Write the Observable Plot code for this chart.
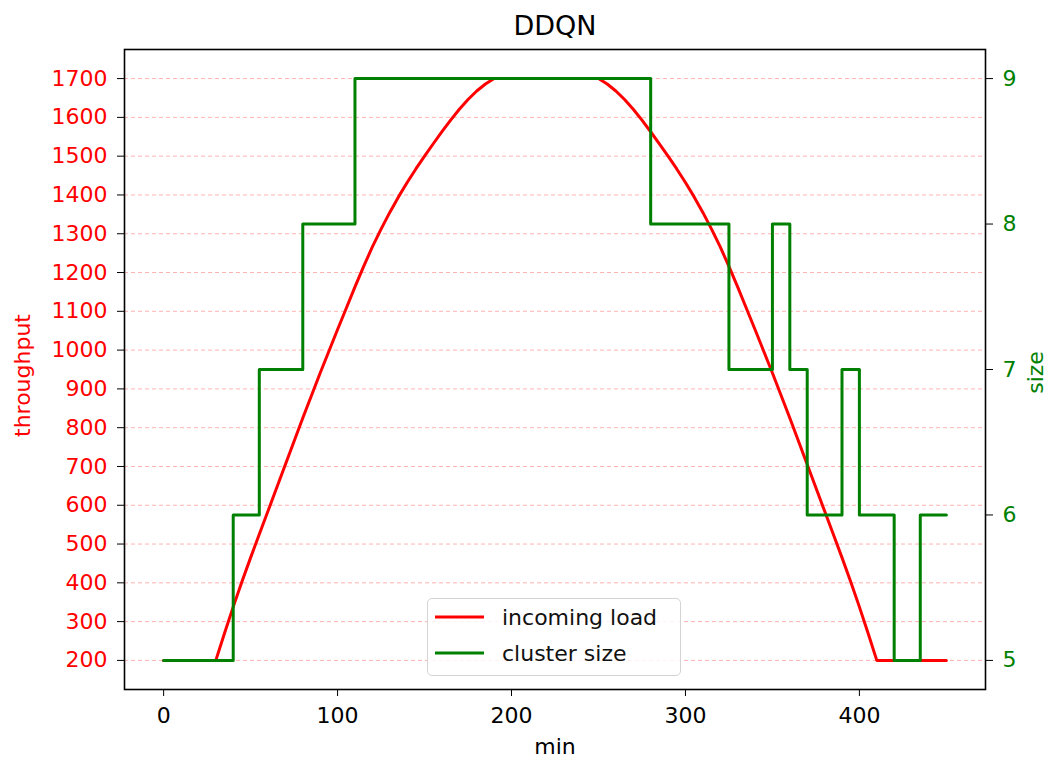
<!DOCTYPE html>
<html><head><meta charset="utf-8">
<script src="https://cdn.jsdelivr.net/npm/d3@7"></script>
<script src="https://cdn.jsdelivr.net/npm/@observablehq/plot@0.6"></script>
<style>
body{margin:0;background:#fff;}
#wrap{position:relative;width:1051px;height:764px;font-family:"DejaVu Sans",sans-serif;}
#legend{position:absolute;left:427px;top:598px;width:252px;height:76px;border:1.5px solid #d4d4d4;border-radius:5px;background:rgba(255,255,255,0.8);}
#legend svg{position:absolute;left:0;top:0;}
</style></head><body><div id="wrap"></div>
<script>
const title = "DDQN";
const xLabel = "min";
const yLeftLabel = "throughput";
const yRightLabel = "size";
const seriesNames = ["incoming load", "cluster size"];
const seriesColors = ["#ff0000", "#008000"];

const loadMinutes = [0,5,10,15,20,25,30,35,40,45,50,55,60,65,70,75,80,85,90,95,100,105,110,115,120,125,130,135,140,145,150,155,160,165,170,175,180,185,190,195,200,205,210,215,220,225,230,235,240,245,250,255,260,265,270,275,280,285,290,295,300,305,310,315,320,325,330,335,340,345,350,355,360,365,370,375,380,385,390,395,400,405,410,415,420,425,430,435,440,445,450];
const loadValues = [200,200,200,200,200,200,200,270,338,403,465,525,585,645,705,765,825,883,941,997,1053,1108,1163,1216,1266,1312,1355,1395,1432,1467,1500,1532,1563,1593,1621,1646,1668,1686,1700,1700,1700,1700,1700,1700,1700,1700,1700,1700,1700,1700,1700,1686,1668,1646,1621,1593,1563,1532,1500,1467,1432,1395,1355,1312,1266,1216,1163,1108,1053,997,941,883,825,765,705,645,585,525,465,403,338,270,200,200,200,200,200,200,200,200,200];

const sizeMinutes = [0,40,55,80,110,280,325,350,360,370,390,400,420,435,450];
const sizeValues = [5,6,7,8,9,8,7,8,7,6,7,6,5,6,6];

const xTicks = [0,100,200,300,400];
const leftTicks = [200,300,400,500,600,700,800,900,1000,1100,1200,1300,1400,1500,1600,1700];
const rightTicks = [5,6,7,8,9];

// twin-axis mapping (size axis 5..9 aligned to throughput 200..1700)
const sizeToY = s => 200 + (s - 5) * 375;

const load = loadMinutes.map((m, i) => ({m, v: loadValues[i]}));
const size = sizeMinutes.map((m, i) => ({m, v: sizeToY(sizeValues[i])}));

const lbl = {text: d => d, textAnchor: "middle", lineAnchor: "middle"};

const chart = Plot.plot({
  width: 1051, height: 764,
  marginLeft: 124, marginRight: 66, marginTop: 49, marginBottom: 75,
  style: {fontFamily: "DejaVu Sans, sans-serif", fontSize: "22px", background: "white", color: "black"},
  x: {domain: [-22.5, 472.5]},
  y: {domain: [125, 1775]},
  marks: [
    Plot.gridY(leftTicks, {stroke: "#ff0000", strokeOpacity: 0.3, strokeDasharray: "4,3", strokeWidth: 1}),
    Plot.line(load, {x: "m", y: "v", stroke: seriesColors[0], strokeWidth: 3}),
    Plot.line(size, {x: "m", y: "v", stroke: seriesColors[1], strokeWidth: 3, curve: "step-after"}),
    Plot.frame({stroke: "black", strokeWidth: 1.6}),
    Plot.axisX(xTicks, {tickSize: 7, tickPadding: 11, fontSize: 22, color: "black", label: null, tickFormat: d => String(d)}),
    Plot.axisY(leftTicks, {anchor: "left", tickSize: 7, tickPadding: 10, fontSize: 22, color: seriesColors[0], stroke: "black", label: null, tickFormat: d => String(d)}),
    Plot.axisY(rightTicks.map(sizeToY), {anchor: "right", tickSize: 7, tickPadding: 10, fontSize: 22, color: seriesColors[1], stroke: "black", label: null,
      tickFormat: d => String(rightTicks[rightTicks.map(sizeToY).indexOf(d)])}),
    Plot.text([title], {...lbl, frameAnchor: "top", dy: -23, fontSize: 27, fill: "black"}),
    Plot.text([xLabel], {...lbl, frameAnchor: "bottom", dy: 57, fontSize: 22, fill: "black"}),
    Plot.text([yLeftLabel], {...lbl, frameAnchor: "left", dx: -102, dy: 6, rotate: -90, fontSize: 22, fill: seriesColors[0]}),
    Plot.text([yRightLabel], {...lbl, frameAnchor: "right", dx: 50, dy: 3, rotate: -90, fontSize: 22, fill: seriesColors[1]})
  ]
});

const wrap = document.getElementById("wrap");
wrap.appendChild(chart);

// legend
const leg = document.createElement("div");
leg.id = "legend";
const ns = "http://www.w3.org/2000/svg";
const lsvg = document.createElementNS(ns, "svg");
lsvg.setAttribute("width", 252); lsvg.setAttribute("height", 76);
seriesNames.forEach((name, i) => {
  const yy = 18 + i * 36;
  const ln = document.createElementNS(ns, "line");
  ln.setAttribute("x1", 7); ln.setAttribute("x2", 56);
  ln.setAttribute("y1", yy); ln.setAttribute("y2", yy);
  ln.setAttribute("stroke", seriesColors[i]); ln.setAttribute("stroke-width", 3);
  lsvg.appendChild(ln);
  const tx = document.createElementNS(ns, "text");
  tx.setAttribute("x", 74); tx.setAttribute("y", yy + 8);
  tx.setAttribute("font-family", "DejaVu Sans, sans-serif");
  tx.setAttribute("font-size", 22);
  tx.setAttribute("fill", "#111");
  tx.textContent = name;
  lsvg.appendChild(tx);
});
leg.appendChild(lsvg);
wrap.appendChild(leg);
</script>
</body></html>
